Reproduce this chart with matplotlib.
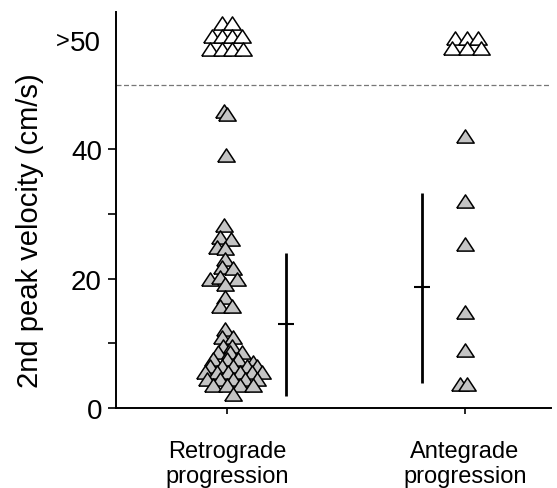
import numpy as np
import matplotlib
matplotlib.use('Agg')
import matplotlib.pyplot as plt

plt.rcParams['font.family'] = ['Liberation Sans', 'DejaVu Sans']

# group positions / labels
groups = ['Retrograde\nprogression', 'Antegrade\nprogression']
group_x = [1, 2]

# retrograde: horizontal jitter (offset from group centre) and velocity (cm/s)
retro_dx = [-0.012, 0.0, -0.004,
            -0.011, -0.029, 0.016, -0.043, -0.008, -0.008, -0.022, 0.027,
            -0.071, -0.029, 0.041, -0.008, -0.008, -0.029, 0.020,
            -0.008, -0.022, 0.027, -0.015, 0.020, -0.036, 0.013, 0.062,
            -0.057, -0.001, 0.048, 0.111,
            -0.071, -0.022, 0.027, 0.083, 0.125,
            -0.092, -0.043, 0.006, 0.055, 0.104, 0.146,
            -0.085, -0.029, 0.027, 0.076, 0.125,
            -0.057, -0.001, 0.055, 0.111, 0.027]
retro_v = [45.9, 45.5, 39.1,
           28.3, 26.4, 26.2, 24.9, 24.7, 23.1, 21.8, 21.6,
           20.0, 20.2, 20.0, 19.2, 17.1, 15.8, 15.8,
           12.2, 10.9, 10.9, 9.6, 9.6, 8.6, 8.6, 8.6,
           7.6, 7.6, 7.6, 7.1,
           6.5, 6.5, 6.5, 6.5, 6.5,
           5.5, 5.5, 5.5, 5.5, 5.5, 5.5,
           4.5, 4.5, 4.5, 4.5, 4.5,
           3.5, 3.5, 3.5, 3.5, 2.2]

# antegrade
ante_dx = [0.0, 0.0, 0.0, 0.0, 0.0, -0.021, 0.008]
ante_v = [42.0, 32.0, 25.3, 14.8, 8.9, 3.7, 3.7]

# values >50 (drawn above the break line as open symbols)
retro_hi_dx = [-0.022, 0.020, -0.064, -0.022, 0.020, 0.062, -0.071, -0.022, 0.020, 0.067]
retro_hi_v = [59.6, 59.6, 57.6, 57.6, 57.6, 57.6, 55.6, 55.6, 55.6, 55.6]
ante_hi_dx = [-0.042, 0.007, 0.055, -0.056, 0.007, 0.069]
ante_hi_v = [57.2, 57.2, 57.2, 55.7, 55.7, 55.7]

# mean and range bars
bar_x = [1.25, 1.82]
bar_lo = [1.85, 3.8]
bar_hi = [24.0, 33.2]
bar_mean = [12.9, 18.7]

cutoff = 50

tri = [(-1, -0.76), (1, -0.76), (0, 0.76), (-1, -0.76)]

fig = plt.figure(figsize=(5.57, 4.89), dpi=100)
ax = fig.add_axes([0.208, 0.164, 0.781, 0.810])

ax.axhline(cutoff, color='#777777', lw=0.9, ls=(0, (4, 2)), zorder=1)

ax.plot(group_x[0] + np.array(retro_dx), retro_v, ls='none', marker=tri, ms=12.5,
        mfc='#c4c4c4', mec='black', mew=1.1, zorder=3)
ax.plot(group_x[1] + np.array(ante_dx), ante_v, ls='none', marker=tri, ms=12.5,
        mfc='#c4c4c4', mec='black', mew=1.1, zorder=3)
ax.plot(group_x[0] + np.array(retro_hi_dx), retro_hi_v, ls='none', marker=tri, ms=12.5,
        mfc='white', mec='black', mew=1.1, zorder=3)
ax.plot(group_x[1] + np.array(ante_hi_dx), ante_hi_v, ls='none', marker=tri, ms=12.5,
        mfc='white', mec='black', mew=1.1, zorder=3)

ax.vlines(bar_x, bar_lo, bar_hi, color='black', lw=2.0)
ax.hlines(bar_mean, np.array(bar_x) - 0.033, np.array(bar_x) + 0.033, color='black', lw=1.5)

ax.set_xlim(0.534, 2.361)
ax.set_ylim(0, 61.3)

ax.set_yticks([0, 10, 20, 30, 40])
ax.set_yticklabels(['0', '', '20', '', '40'])
# ">50" label for the off-scale values
ax.annotate('50', xy=(0, 56.4), xycoords=ax.get_yaxis_transform(), xytext=(-11, 0),
            textcoords='offset points', ha='right', va='center', fontsize=20)
ax.annotate('>', xy=(0, 56.4), xycoords=ax.get_yaxis_transform(), xytext=(-33, 2),
            textcoords='offset points', ha='right', va='center', fontsize=17)
ax.set_xticks(group_x)
ax.set_xticklabels(groups, fontsize=17, linespacing=1.2)

ax.tick_params(axis='y', direction='out', length=6, width=1.2, labelsize=20, pad=4)
ax.tick_params(axis='x', direction='out', length=4, width=1.2, pad=19)

ax.set_ylabel('2nd peak velocity (cm/s)', fontsize=21)
ax.yaxis.set_label_coords(-0.165, 0.45)

for s in ['top', 'right']:
    ax.spines[s].set_visible(False)
for s in ['left', 'bottom']:
    ax.spines[s].set_linewidth(1.4)

fig.savefig('out.png', dpi=100)
